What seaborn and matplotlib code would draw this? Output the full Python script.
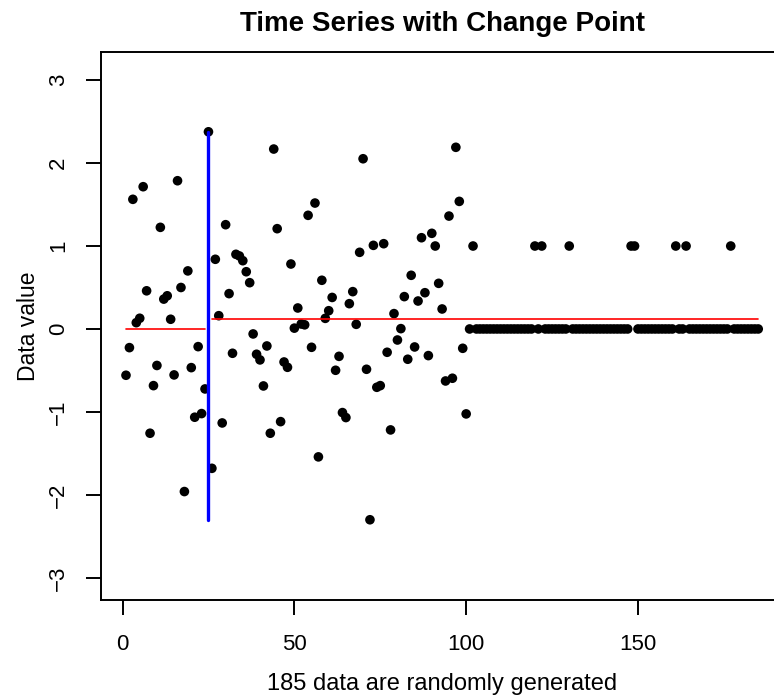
import numpy as np
import pandas as pd
import seaborn as sns
import matplotlib
matplotlib.use('Agg')
import matplotlib.pyplot as plt

# values, index 1..100
first_part = [
    -0.558, -0.225, 1.563, 0.076, 0.129, 1.715, 0.46, -1.257, -0.683, -0.44,
    1.225, 0.36, 0.40, 0.117, -0.554, 1.787, 0.50, -1.96, 0.70, -0.466,
    -1.064, -0.213, -1.02, -0.723, 2.377, -1.68, 0.84, 0.16, -1.133, 1.257,
    0.426, -0.293, 0.90, 0.88, 0.823, 0.69, 0.558, -0.06, -0.305, -0.373,
    -0.687, -0.205, -1.257, 2.169, 1.209, -1.117, -0.398, -0.462, 0.783, 0.01,
    0.253, 0.06, 0.05, 1.37, -0.221, 1.518, -1.542, 0.587, 0.128, 0.22,
    0.38, -0.498, -0.33, -1.008, -1.068, 0.305, 0.45, 0.056, 0.924, 2.052,
    -0.486, -2.30, 1.008, -0.703, -0.683, 1.028, -0.281, -1.217, 0.185, -0.133,
    0.004, 0.39, -0.365, 0.647, -0.217, 0.337, 1.10, 0.437, -0.321, 1.153,
    1.0, 0.55, 0.241, -0.627, 1.361, -0.594, 2.19, 1.538, -0.233, -1.024,
]
# indices 101..185 are 0 except these, which are 1
ones_at = [102, 120, 122, 130, 148, 149, 161, 164, 177]
n_total = 185
change_point = 25

second_part = [1.0 if i in ones_at else 0.0 for i in range(101, n_total + 1)]
values = np.array(first_part + second_part)
index = np.arange(1, n_total + 1)

df = pd.DataFrame({'index': index, 'value': values})

sns.set_theme(style='ticks')
plt.rcParams['font.family'] = ['Liberation Sans', 'DejaVu Sans']
plt.rcParams['text.color'] = 'black'
plt.rcParams['axes.labelcolor'] = 'black'

fig = plt.figure(figsize=(7.74, 6.96), dpi=100)
# the original box runs past the right edge of the picture
ax = fig.add_axes([0.1301, 0.1375, 0.8822, 0.7878])
ax.patch.set_visible(False)

sns.scatterplot(data=df, x='index', y='value', color='black', s=48,
                edgecolor='none', ax=ax, zorder=3)

# segment means
left = df[df['index'] < change_point]
right = df[df['index'] > change_point]
ax.plot([left['index'].min(), left['index'].max()], [left['value'].mean()] * 2,
        color='red', lw=1.2, zorder=4)
ax.plot([right['index'].min(), right['index'].max()], [right['value'].mean()] * 2,
        color='red', lw=1.2, zorder=4)

# change point
ax.plot([change_point, change_point], [values.min(), values.max()],
        color='#0000ff', lw=2.4, zorder=4)

ax.set_xlim(-6.36, 192.36)
ax.set_ylim(-3.271, 3.339)
ax.set_xticks([0, 50, 100, 150])
ax.set_yticks([-3, -2, -1, 0, 1, 2, 3])

for side in ['top', 'left', 'bottom']:
    ax.spines[side].set_visible(True)
    ax.spines[side].set_linewidth(1.4)
    ax.spines[side].set_color('black')
ax.spines['right'].set_visible(False)

ax.tick_params(axis='both', length=10.6, width=1.4, color='black',
               labelsize=16, pad=12, labelcolor='black')
ax.tick_params(axis='x', pad=13.5)
ax.tick_params(axis='y', labelrotation=90)
for lbl in ax.get_yticklabels():
    lbl.set_va('center')

ax.set_title('Time Series with Change Point', fontsize=20,
             fontweight='bold', pad=15, color='black')
ax.set_xlabel('185 data are randomly generated', fontsize=17, labelpad=13)
ax.set_ylabel('Data value', fontsize=16.5, labelpad=6)

fig.savefig('out.png', dpi=100)
